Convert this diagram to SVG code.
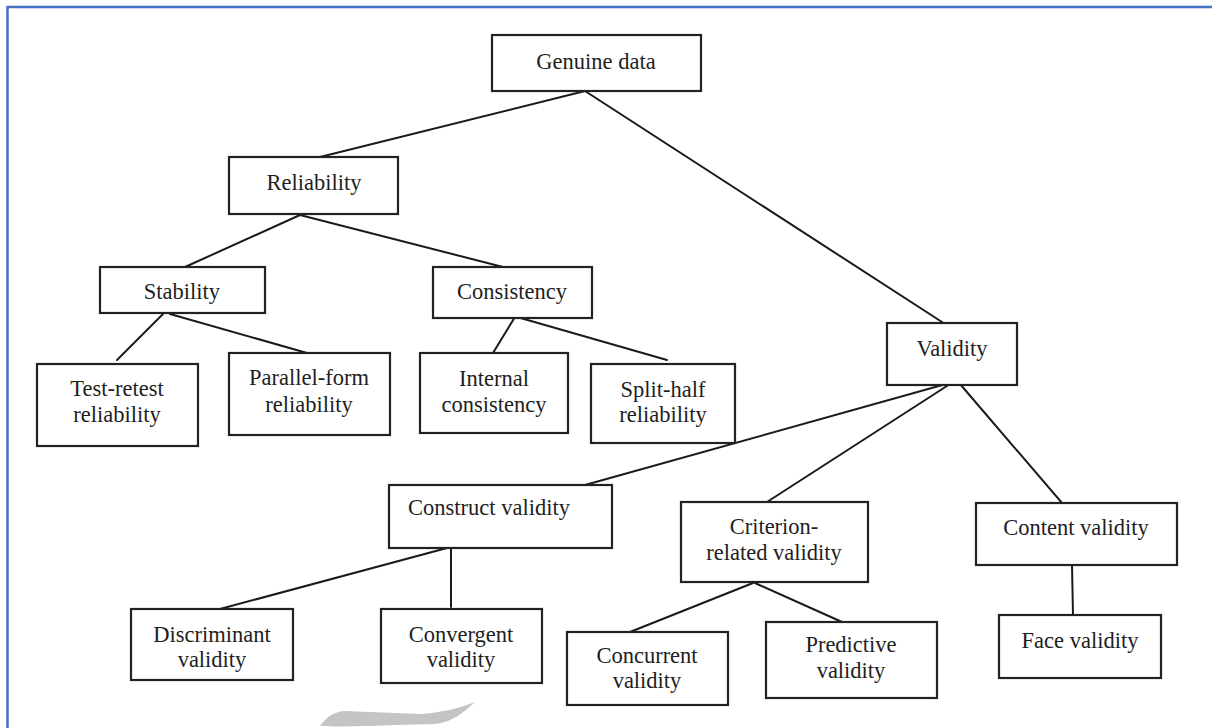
<svg xmlns="http://www.w3.org/2000/svg" width="1212" height="728" viewBox="0 0 1212 728">
<style>
.box{fill:#fff;stroke:#222;stroke-width:2.2}
.t{font-family:"Liberation Serif","Times New Roman",serif;font-size:22.5px;fill:#1e1e1e;text-anchor:middle}
.c{stroke:#1a1a1a;stroke-width:2;fill:none;stroke-linecap:round}
</style>
<rect x="0" y="0" width="1212" height="728" fill="#fff"/>
<path d="M7.5 728 V7 H1212" fill="none" stroke="#4472C4" stroke-width="2.5"/>
<path d="M320 726 C326 718 332 712 345 711 L420 714 C440 713 460 708 475 702 C462 714 452 722 435 724 L395 725 C370 726 340 727 320 726 Z" fill="#c4c4c4"/>
<g id="connectors" class="c">
<line x1="585" y1="91" x2="320" y2="157"/>
<line x1="585" y1="91" x2="942" y2="322"/>
<line x1="300" y1="215" x2="185" y2="267"/>
<line x1="300" y1="215" x2="503" y2="267"/>
<line x1="163" y1="314" x2="117" y2="360"/>
<line x1="170" y1="314" x2="307" y2="353"/>
<line x1="515" y1="317" x2="493" y2="353"/>
<line x1="517" y1="317" x2="667" y2="360"/>
<line x1="946" y1="384" x2="585" y2="485"/>
<line x1="950" y1="384" x2="767" y2="502"/>
<line x1="960" y1="384" x2="1068" y2="510"/>
<line x1="447" y1="548" x2="220" y2="609"/>
<line x1="451" y1="548" x2="451" y2="607"/>
<line x1="753" y1="583" x2="630" y2="632"/>
<line x1="755" y1="583" x2="842" y2="622"/>
<line x1="1072" y1="565" x2="1073" y2="615"/>
</g>
<g id="genuine"><rect class="box" x="492" y="35" width="209" height="56"/><text class="t" x="596" y="69">Genuine data</text></g>
<g id="reliability"><rect class="box" x="229" y="157" width="169" height="57"/><text class="t" x="314" y="190">Reliability</text></g>
<g id="stability"><rect class="box" x="100" y="267" width="165" height="46"/><text class="t" x="182" y="299">Stability</text></g>
<g id="consistency"><rect class="box" x="433" y="267" width="159" height="51"/><text class="t" x="512" y="299">Consistency</text></g>
<g id="testretest"><rect class="box" x="37" y="364" width="161" height="82"/><text class="t" x="117" y="396">Test-retest</text><text class="t" x="117" y="422">reliability</text></g>
<g id="parallel"><rect class="box" x="229" y="353" width="161" height="82"/><text class="t" x="309" y="385">Parallel-form</text><text class="t" x="309" y="412">reliability</text></g>
<g id="internal"><rect class="box" x="420" y="353" width="148" height="80"/><text class="t" x="494" y="386">Internal</text><text class="t" x="494" y="412">consistency</text></g>
<g id="splithalf"><rect class="box" x="591" y="364" width="144" height="79"/><text class="t" x="663" y="397">Split-half</text><text class="t" x="663" y="422">reliability</text></g>
<g id="validity"><rect class="box" x="887" y="323" width="130" height="62"/><text class="t" x="952" y="356">Validity</text></g>
<g id="construct"><rect class="box" x="389" y="485" width="223" height="63"/><text class="t" x="489" y="515">Construct validity</text></g>
<g id="criterion"><rect class="box" x="681" y="502" width="187" height="80"/><text class="t" x="774" y="534">Criterion-</text><text class="t" x="774" y="560">related validity</text></g>
<g id="content"><rect class="box" x="976" y="503" width="201" height="62"/><text class="t" x="1076" y="535">Content validity</text></g>
<g id="discriminant"><rect class="box" x="131" y="609" width="162" height="71"/><text class="t" x="212" y="642">Discriminant</text><text class="t" x="212" y="667">validity</text></g>
<g id="convergent"><rect class="box" x="381" y="609" width="161" height="74"/><text class="t" x="461" y="642">Convergent</text><text class="t" x="461" y="667">validity</text></g>
<g id="concurrent"><rect class="box" x="567" y="632" width="161" height="73"/><text class="t" x="647" y="663">Concurrent</text><text class="t" x="647" y="688">validity</text></g>
<g id="predictive"><rect class="box" x="766" y="622" width="171" height="76"/><text class="t" x="851" y="652">Predictive</text><text class="t" x="851" y="678">validity</text></g>
<g id="face"><rect class="box" x="999" y="615" width="162" height="63"/><text class="t" x="1080" y="648">Face validity</text></g>
</svg>
